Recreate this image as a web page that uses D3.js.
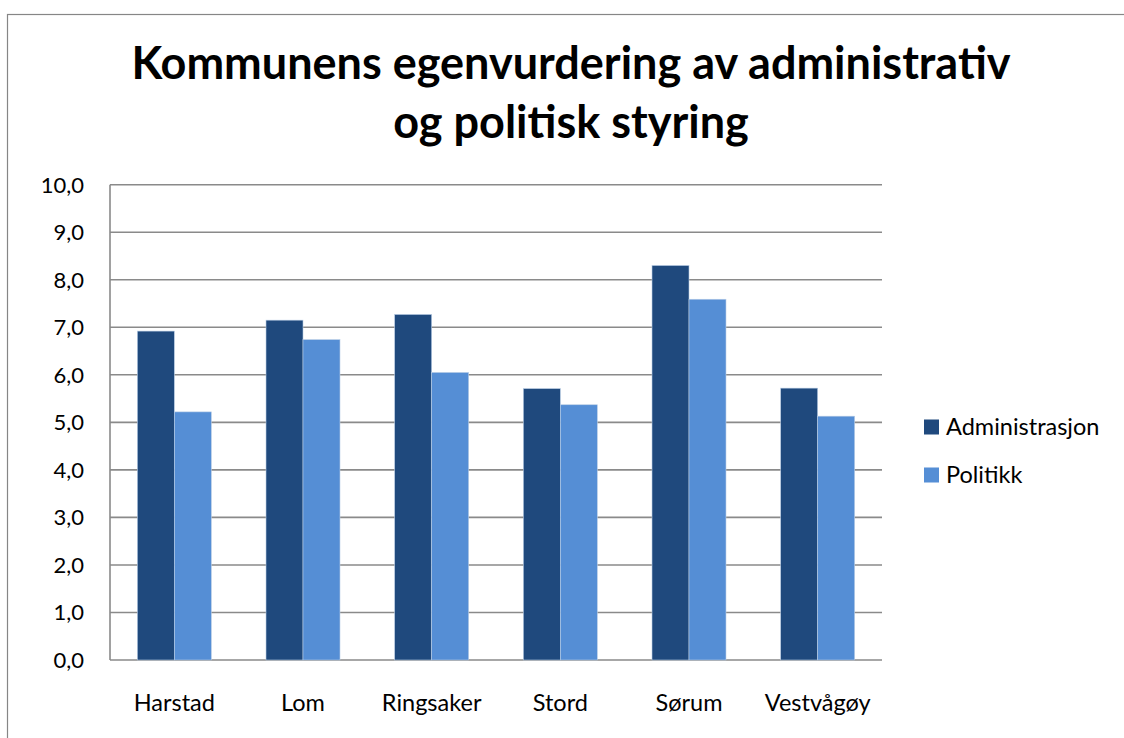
<!DOCTYPE html>
<html lang="no">
<head>
  <meta charset="UTF-8" />
  <title>Kommunens egenvurdering av administrativ og politisk styring</title>
  <script src="https://d3js.org/d3.v7.min.js"></script>
  <style>
    body {
      margin: 0;
      background: #fff;
      font-family: 'Lato', 'Noto Sans', sans-serif;
    }
    .grid line { stroke: #8a8a8a; stroke-width: 1.6px; }
    .tick-label { font-size: 23.5px; fill: #000; }
    .y-label { font-size: 22px; fill: #000; }
    .title { font-size: 45px; font-weight: bold; fill: #000; }
  </style>
</head>
<body>
  <svg id="chart"></svg>

  <script>
    // Chart data
    const kommuner = ["Harstad", "Lom", "Ringsaker", "Stord", "Sørum", "Vestvågøy"];
    const serier = ["Administrasjon", "Politikk"];
    const administrasjon = [6.92, 7.15, 7.27, 5.71, 8.30, 5.72];
    const politikk = [5.22, 6.74, 6.05, 5.37, 7.59, 5.13];
    const yTicks = [0, 1, 2, 3, 4, 5, 6, 7, 8, 9, 10];
    const farger = ["#1f497d", "#558ed5"];
    const tittel = ["Kommunens egenvurdering av administrativ", "og politisk styring"];

    const width = 1124, height = 738;
    const plot = { left: 110, right: 882, top: 184.7, bottom: 660 };

    const svg = d3.select("#chart")
      .attr("width", width)
      .attr("height", height);

    // outer chart frame (cut off on the right and bottom like the original)
    svg.append("rect")
      .attr("x", 7.5).attr("y", 14.5)
      .attr("width", width + 20).attr("height", height + 20)
      .attr("fill", "#fff")
      .attr("stroke", "#868686")
      .attr("stroke-width", 1.2);

    // title
    svg.append("text")
      .attr("class", "title")
      .attr("text-anchor", "middle")
      .selectAll("tspan")
      .data(tittel)
      .join("tspan")
      .attr("x", 571)
      .attr("y", (d, i) => 79 + i * 59)
      .text(d => d);

    const x = d3.scaleBand()
      .domain(kommuner)
      .range([plot.left, plot.right])
      .paddingInner(0.425)
      .paddingOuter(0.2125);

    const xInner = d3.scaleBand()
      .domain(serier)
      .range([0, x.bandwidth()]);

    const y = d3.scaleLinear()
      .domain([0, 10])
      .range([plot.bottom, plot.top]);

    const no = d3.formatLocale({ decimal: ",", thousands: " ", grouping: [3], currency: ["", " kr"] });
    const fmt = no.format(".1f");

    // horizontal gridlines
    svg.append("g")
      .attr("class", "grid")
      .selectAll("line")
      .data(yTicks)
      .join("line")
      .attr("x1", plot.left)
      .attr("x2", plot.right)
      .attr("y1", d => y(d))
      .attr("y2", d => y(d));

    // vertical axis line
    svg.append("line")
      .attr("x1", plot.left).attr("x2", plot.left)
      .attr("y1", y(10)).attr("y2", y(0))
      .attr("stroke", "#8a8a8a")
      .attr("stroke-width", 1.6);

    // y tick labels
    svg.append("g")
      .selectAll("text")
      .data(yTicks)
      .join("text")
      .attr("class", "y-label")
      .attr("x", 84)
      .attr("y", d => y(d))
      .attr("dy", "0.36em")
      .attr("text-anchor", "end")
      .text(d => fmt(d));

    // bars
    const rows = kommuner.map((k, i) => ({ kommune: k, values: [administrasjon[i], politikk[i]] }));

    const groups = svg.append("g")
      .selectAll("g")
      .data(rows)
      .join("g")
      .attr("transform", d => `translate(${x(d.kommune)},0)`);

    groups.selectAll("rect")
      .data(d => d.values.map((v, j) => ({ serie: serier[j], value: v, color: farger[j] })))
      .join("rect")
      .attr("x", d => xInner(d.serie))
      .attr("y", d => y(d.value))
      .attr("width", xInner.bandwidth())
      .attr("height", d => y(0) - y(d.value))
      .attr("fill", d => d.color)
      .attr("stroke", "#b9cde5")
      .attr("stroke-width", 0.6);

    // category labels
    svg.append("g")
      .selectAll("text")
      .data(kommuner)
      .join("text")
      .attr("class", "tick-label")
      .attr("x", d => x(d) + x.bandwidth() / 2)
      .attr("y", 711)
      .attr("text-anchor", "middle")
      .text(d => d);

    // legend
    const legend = svg.append("g")
      .selectAll("g")
      .data(serier)
      .join("g")
      .attr("transform", (d, i) => `translate(924,${427 + i * 48})`);

    legend.append("rect")
      .attr("x", 0).attr("y", -7.5)
      .attr("width", 15).attr("height", 15)
      .attr("fill", (d, i) => farger[i]);

    legend.append("text")
      .attr("class", "tick-label")
      .attr("x", 22)
      .attr("dy", "0.36em")
      .text(d => d);
  </script>
</body>
</html>
